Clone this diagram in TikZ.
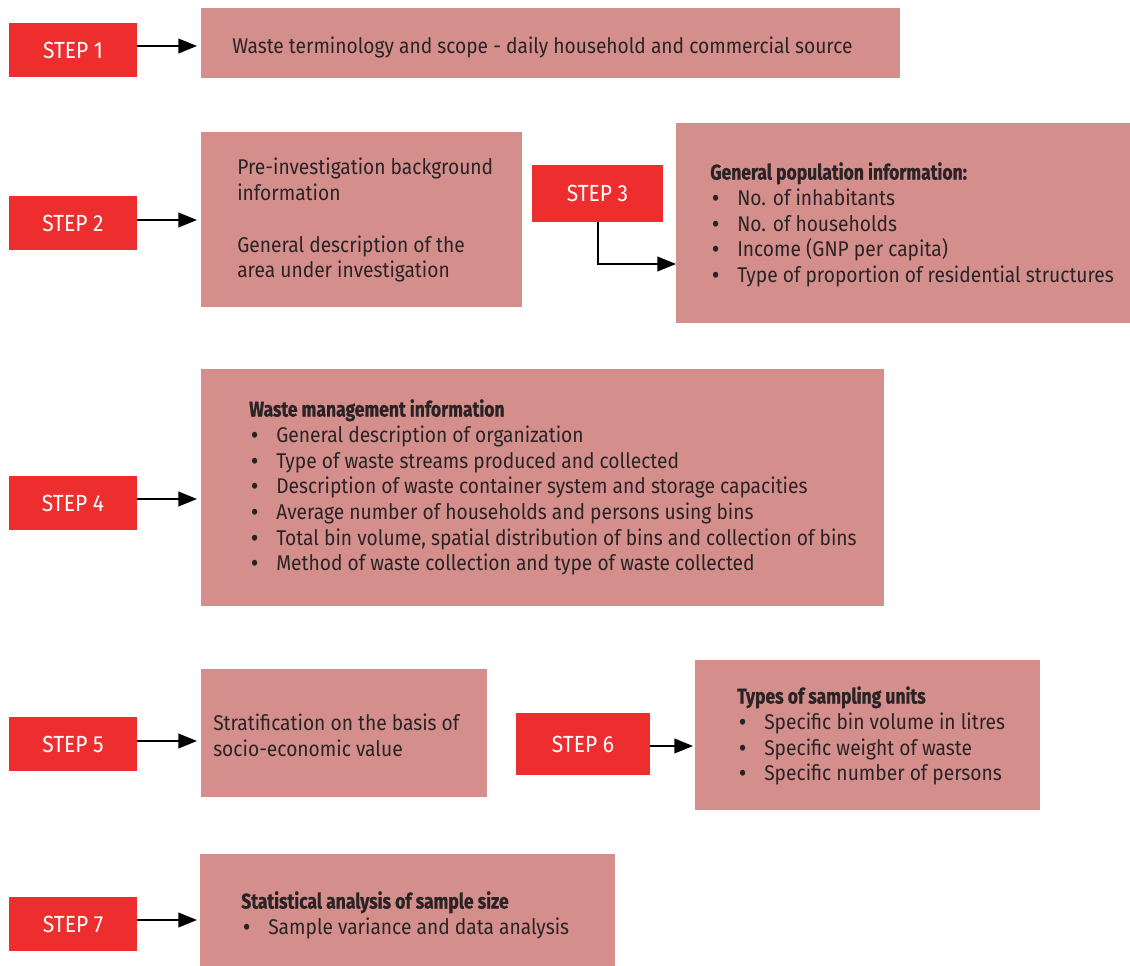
\documentclass[tikz,border=0pt]{standalone}
\usepackage{fontspec}
\setmainfont{Fira Sans}[FakeStretch=0.9]
\newfontfamily\headfont{Fira Sans}[FakeStretch=0.82, BoldFeatures={FakeBold=0.8}]
\usetikzlibrary{arrows.meta}
\definecolor{stepred}{HTML}{EE2E2E}
\definecolor{boxpink}{HTML}{D48F8D}
\definecolor{txt}{HTML}{2A2325}
\newlength{\pxu}\setlength{\pxu}{0.75pt}
\newcommand{\bl}{\hspace*{2\pxu}\makebox[25\pxu][l]{\bfseries •}}
\tikzset{
  stepbox/.style={fill=stepred, text=white, inner sep=0pt, font=\fontsize{17.5}{20}\selectfont},
  infobox/.style={fill=boxpink},
  infotext/.style={text=txt, inner sep=0pt, align=left, anchor=north west, font=\fontsize{16}{19.3}\selectfont},
  arr/.style={line width=1.5pt, -{Triangle[length=14pt,width=11pt]}}
}
\newcommand{\hd}[1]{{\headfont\bfseries #1}}
\begin{document}
\begin{tikzpicture}[x=0.75pt,y=-0.75pt]
\useasboundingbox (0,0) rectangle (1130,966);
% boxes
\path[infobox] (201,8) rectangle (900,78);
\path[infobox] (201,132) rectangle (522,307);
\path[infobox] (676,123) rectangle (1130,323);
\path[infobox] (201,369) rectangle (884,606);
\path[infobox] (201,669) rectangle (487,797);
\path[infobox] (695,660) rectangle (1040,810);
\path[infobox] (200,854) rectangle (615,966);
% anchor coordinates for box left edges
\coordinate (b1) at (197,46);
\coordinate (b2) at (197,220);
\coordinate (b4) at (197,499);
\coordinate (b5) at (197,741);
\coordinate (b6) at (693,746);
\coordinate (b7) at (197,920);
\coordinate (b3) at (676,264);
% step boxes
\node[stepbox, minimum width=96pt, minimum height=40.5pt] (s1) at (73,50) {STEP 1};
\node[stepbox, minimum width=96pt, minimum height=40.5pt] (s2) at (73,223) {STEP 2};
\node[stepbox, minimum width=98.25pt, minimum height=42.75pt] (s3) at (597.5,193.5) {STEP 3};
\node[stepbox, minimum width=96pt, minimum height=40.5pt] (s4) at (73,503) {STEP 4};
\node[stepbox, minimum width=96pt, minimum height=40.5pt] (s5) at (73,744) {STEP 5};
\node[stepbox, minimum width=100.5pt, minimum height=46.5pt] (s6) at (583,744) {STEP 6};
\node[stepbox, minimum width=96pt, minimum height=40.5pt] (s7) at (73,924) {STEP 7};
% arrows
\draw[arr] (s1.east |- b1) -- (b1);
\draw[arr] (s2.east |- b2) -- (b2);
\draw[arr] (s4.east |- b4) -- (b4);
\draw[arr] (s5.east |- b5) -- (b5);
\draw[arr] (s6.east |- b6) -- (b6);
\draw[arr] (s7.east |- b7) -- (b7);
\draw[arr] (598,0 |- s3.south) -- (598,264) -- (b3);
% texts
\node[infotext, anchor=west] (t1) at (232,47) {Waste terminology and scope - daily household and commercial source};
\node[infotext] (t2) at (237,158) {Pre-investigation background\\information\\[19.3pt]General description of the\\area under investigation};
\node[infotext] (t3) at (710,162) {\hd{General population information:}\\
\bl No. of inhabitants\\
\bl No. of households\\
\bl Income (GNP per capita)\\
\bl Type of proportion of residential structures};
\node[infotext] (t4) at (249,399) {\hd{Waste management information}\\
\bl General description of organization\\
\bl Type of waste streams produced and collected\\
\bl Description of waste container system and storage capacities\\
\bl Average number of households and persons using bins\\
\bl Total bin volume, spatial distribution of bins and collection of bins\\
\bl Method of waste collection and type of waste collected};
\node[infotext] (t5) at (213,714) {Stratification on the basis of\\socio-economic value};
\node[infotext] (t6) at (737,686) {\hd{Types of sampling units}\\
\bl Specific bin volume in litres\\
\bl Specific weight of waste\\
\bl Specific number of persons};
\node[infotext] (t7) at (241,891) {\hd{Statistical analysis of sample size}\\
\bl Sample variance and data analysis};
\end{tikzpicture}
\end{document}
